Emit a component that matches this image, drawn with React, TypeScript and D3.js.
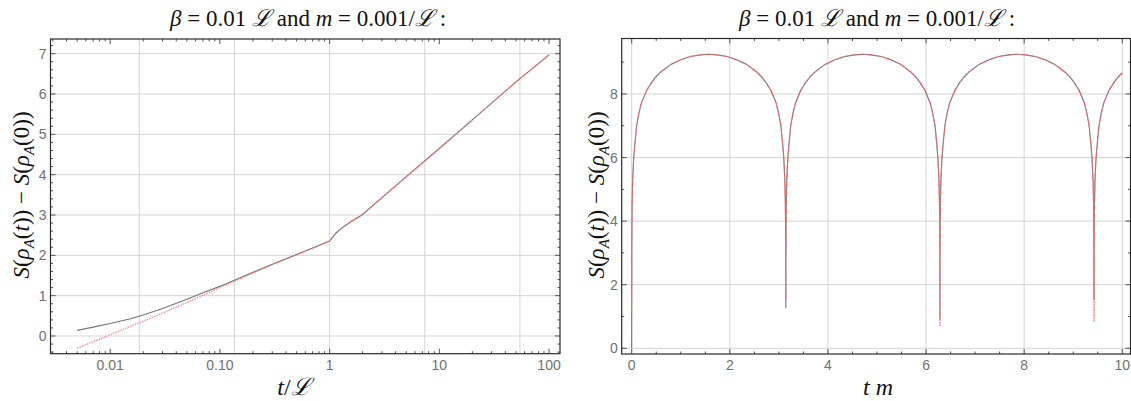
import React from 'react';
import * as d3 from 'd3';

const W = 1131;
const H = 401;

// ---------- Left panel data (log time axis) ----------
const leftT = [0.005, 0.007, 0.01, 0.015, 0.02, 0.03, 0.05, 0.07, 0.1, 0.2, 0.3, 0.5, 0.7, 1, 1.15, 1.34, 1.6, 1.97, 3, 5, 10, 20, 50, 100];
const leftExact = [0.14, 0.22, 0.31, 0.42, 0.52, 0.68, 0.91, 1.07, 1.23, 1.58, 1.78, 2.02, 2.18, 2.355, 2.56, 2.71, 2.85, 3.0, 3.43, 3.95, 4.65, 5.36, 6.3, 6.97];
const leftApprox = [-0.305, -0.14, 0.03, 0.23, 0.37, 0.57, 0.83, 1.01, 1.2, 1.56, 1.77, 2.01, 2.17, 2.355, 2.56, 2.71, 2.85, 3.0, 3.43, 3.95, 4.65, 5.36, 6.3, 6.97];
const leftXTicks = [0.01, 0.1, 1, 10, 100];
const leftXTickLabels = ['0.01', '0.10', '1', '10', '100'];
const leftXGrid = [0.0184, 0.1357, 1, 7.37, 54.3];
const leftYTicks = [0, 1, 2, 3, 4, 5, 6, 7];

// ---------- Right panel data (linear t m axis) ----------
const archOffsets = [0.002, 0.005, 0.01, 0.02, 0.04, 0.06, 0.1, 0.15, 0.2, 0.3, 0.4, 0.5, 0.6, 0.8, 1.0, 1.2, 1.4];
const archValues = [3.0, 3.9, 4.6, 5.3, 5.95, 6.35, 7.0, 7.42, 7.73, 8.1, 8.35, 8.55, 8.7, 8.93, 9.08, 9.18, 9.23];
const archPeak = 9.25;
const dipTimes = [0, 3.1416, 6.2832, 9.4248];
const exactDipMin = [0, 1.26, 0.9, 1.52];
const approxDipMin = [1.2, 1.47, 0.68, 0.84];
const rightEnd = { t: 10, v: 8.66 };
const rightXTicks = [0, 2, 4, 6, 8, 10];
const rightYTicks = [0, 2, 4, 6, 8];

type P = [number, number];

function buildRight(mins: number[]): P[] {
  const pts: P[] = [];
  dipTimes.forEach((d, i) => {
    pts.push([d, mins[i]]);
    const next = dipTimes[i + 1];
    archOffsets.forEach((u, j) => {
      if (d + u < rightEnd.t) pts.push([d + u, archValues[j]]);
    });
    if (next !== undefined) {
      pts.push([(d + next) / 2, archPeak]);
      for (let j = archOffsets.length - 1; j >= 0; j--) pts.push([next - archOffsets[j], archValues[j]]);
    }
  });
  pts.push([rightEnd.t, rightEnd.v]);
  return pts;
}

const SERIF = "'Liberation Serif', 'DejaVu Serif', serif";
const SANS = "'Liberation Sans', Arial, sans-serif";
const GRID = '#d4d4d4';
const FRAME = '#2a2a2a';
const TICKC = '#555';
const LABELC = '#707070';
const EXACT = '#767676';
const APPROX = '#ff6e6e';

function Script() {
  return <tspan fontFamily="'DejaVu Serif', serif" fontStyle="italic">ℒ</tspan>;
}

function Title({ cx }: { cx: number }) {
  return (
    <text x={cx} y={26} fontFamily={SERIF} fontSize={23} textAnchor="middle" fill="#111">
      <tspan fontStyle="italic">β</tspan>
      <tspan>{' = 0.01 '}</tspan>
      <Script />
      <tspan>{' and '}</tspan>
      <tspan fontStyle="italic">m</tspan>
      <tspan>{' = 0.001/'}</tspan>
      <Script />
      <tspan>{' :'}</tspan>
    </text>
  );
}

function YLabel({ x, y }: { x: number; y: number }) {
  return (
    <text transform={`translate(${x},${y}) rotate(-90)`} fontFamily={SERIF} fontSize={23} textAnchor="middle" fill="#111">
      <tspan fontStyle="italic">S</tspan>
      <tspan>(</tspan>
      <tspan fontStyle="italic">ρ</tspan>
      <tspan fontStyle="italic" fontSize={15} dy={5}>A</tspan>
      <tspan dy={-5}>(</tspan>
      <tspan fontStyle="italic">t</tspan>
      <tspan>{')) − '}</tspan>
      <tspan fontStyle="italic">S</tspan>
      <tspan>(</tspan>
      <tspan fontStyle="italic">ρ</tspan>
      <tspan fontStyle="italic" fontSize={15} dy={5}>A</tspan>
      <tspan dy={-5}>(0))</tspan>
    </text>
  );
}

function LeftPanel() {
  const x0 = 50.5, x1 = 560, y0 = 39, y1 = 353.7;
  const x = d3.scaleLog().domain([Math.pow(10, -2.544), Math.pow(10, 2.1)]).range([x0, x1]);
  const y = d3.scaleLinear().domain([-0.439, 7.364]).range([y1, y0]);
  const line = d3.line<number>().x((_, i) => x(leftT[i])).y((v) => y(v));
  const minorX: number[] = [];
  for (let k = -3; k <= 2; k++) for (let m = 2; m <= 9; m++) {
    const v = m * Math.pow(10, k);
    if (x(v) > x0 && x(v) < x1) minorX.push(v);
  }
  const minorY: number[] = [];
  for (let v = -0.4; v <= 7.3; v += 0.2) {
    const r = Math.round(v * 10) / 10;
    if (Math.abs(r - Math.round(r)) > 0.05) minorY.push(r);
  }
  return (
    <g>
      {leftXGrid.map((g) => <line key={'gx' + g} x1={x(g)} x2={x(g)} y1={y0} y2={y1} stroke={GRID} strokeWidth={1} />)}
      {leftYTicks.map((g) => <line key={'gy' + g} x1={x0} x2={x1} y1={y(g)} y2={y(g)} stroke={GRID} strokeWidth={1} />)}
      <path d={line(leftExact) || ''} fill="none" stroke={EXACT} strokeWidth={1.1} />
      <path d={line(leftApprox) || ''} fill="none" stroke={APPROX} strokeWidth={1.2} strokeDasharray="1.4,1.2" />
      {leftXTicks.map((t) => (
        <g key={'xt' + t}>
          <line x1={x(t)} x2={x(t)} y1={y1} y2={y1 - 5} stroke={TICKC} />
          <line x1={x(t)} x2={x(t)} y1={y0} y2={y0 + 5} stroke={TICKC} />
        </g>
      ))}
      {minorX.map((t) => (
        <g key={'mx' + t}>
          <line x1={x(t)} x2={x(t)} y1={y1} y2={y1 - 2.5} stroke={TICKC} />
          <line x1={x(t)} x2={x(t)} y1={y0} y2={y0 + 2.5} stroke={TICKC} />
        </g>
      ))}
      {leftYTicks.map((t) => (
        <g key={'yt' + t}>
          <line x1={x0} x2={x0 + 5} y1={y(t)} y2={y(t)} stroke={TICKC} />
          <line x1={x1} x2={x1 - 5} y1={y(t)} y2={y(t)} stroke={TICKC} />
        </g>
      ))}
      {minorY.map((t) => (
        <g key={'my' + t}>
          <line x1={x0} x2={x0 + 2.5} y1={y(t)} y2={y(t)} stroke={TICKC} />
          <line x1={x1} x2={x1 - 2.5} y1={y(t)} y2={y(t)} stroke={TICKC} />
        </g>
      ))}
      <rect x={x0} y={y0} width={x1 - x0} height={y1 - y0} fill="none" stroke={FRAME} strokeWidth={1.2} />
      {leftXTicks.map((t, i) => (
        <text key={'xl' + t} x={x(t)} y={370} fontFamily={SANS} fontSize={14} fill={LABELC} textAnchor="middle">{leftXTickLabels[i]}</text>
      ))}
      {leftYTicks.map((t) => (
        <text key={'yl' + t} x={x0 - 4} y={y(t) + 5} fontFamily={SANS} fontSize={14} fill={LABELC} textAnchor="end">{String(t)}</text>
      ))}
      <Title cx={308} />
      <YLabel x={29} y={195} />
      <text x={294} y={395} fontFamily={SERIF} fontSize={24} textAnchor="middle" fill="#111">
        <tspan fontStyle="italic">t</tspan>
        <tspan>/</tspan>
        <Script />
      </text>
    </g>
  );
}

function RightPanel() {
  const x0 = 621.7, x1 = 1130.5, y0 = 38.5, y1 = 354;
  const x = d3.scaleLinear().domain([-0.2038, 10.168]).range([x0, x1]);
  const y = d3.scaleLinear().domain([-0.18, 9.745]).range([y1, y0]);
  const exact = buildRight(exactDipMin);
  const approx = buildRight(approxDipMin);
  const line = d3.line<P>().x((d) => x(d[0])).y((d) => y(d[1]));
  const minorX: number[] = [];
  for (let v = 0; v <= 10.1; v += 0.5) {
    const r = Math.round(v * 10) / 10;
    if (r % 2 !== 0) minorX.push(r);
  }
  const minorY = [1, 3, 5, 7, 9];
  return (
    <g>
      {rightXTicks.map((g) => <line key={'gx' + g} x1={x(g)} x2={x(g)} y1={y0} y2={y1} stroke={GRID} strokeWidth={1} />)}
      {rightYTicks.map((g) => <line key={'gy' + g} x1={x0} x2={x1} y1={y(g)} y2={y(g)} stroke={GRID} strokeWidth={1} />)}
      <path d={line(exact) || ''} fill="none" stroke={EXACT} strokeWidth={1.1} />
      <path d={line(approx) || ''} fill="none" stroke={APPROX} strokeWidth={1.2} strokeDasharray="1.4,1.2" />
      {rightXTicks.map((t) => (
        <g key={'xt' + t}>
          <line x1={x(t)} x2={x(t)} y1={y1} y2={y1 - 5} stroke={TICKC} />
          <line x1={x(t)} x2={x(t)} y1={y0} y2={y0 + 5} stroke={TICKC} />
        </g>
      ))}
      {minorX.map((t) => (
        <g key={'mx' + t}>
          <line x1={x(t)} x2={x(t)} y1={y1} y2={y1 - 2.5} stroke={TICKC} />
          <line x1={x(t)} x2={x(t)} y1={y0} y2={y0 + 2.5} stroke={TICKC} />
        </g>
      ))}
      {rightYTicks.map((t) => (
        <g key={'yt' + t}>
          <line x1={x0} x2={x0 + 5} y1={y(t)} y2={y(t)} stroke={TICKC} />
          <line x1={x1} x2={x1 - 5} y1={y(t)} y2={y(t)} stroke={TICKC} />
        </g>
      ))}
      {minorY.map((t) => (
        <g key={'my' + t}>
          <line x1={x0} x2={x0 + 2.5} y1={y(t)} y2={y(t)} stroke={TICKC} />
          <line x1={x1} x2={x1 - 2.5} y1={y(t)} y2={y(t)} stroke={TICKC} />
        </g>
      ))}
      <rect x={x0} y={y0} width={x1 - x0} height={y1 - y0} fill="none" stroke={FRAME} strokeWidth={1.2} />
      {rightXTicks.map((t) => (
        <text key={'xl' + t} x={x(t)} y={370} fontFamily={SANS} fontSize={14} fill={LABELC} textAnchor="middle">{String(t)}</text>
      ))}
      {rightYTicks.map((t) => (
        <text key={'yl' + t} x={x0 - 4} y={y(t) + 5} fontFamily={SANS} fontSize={14} fill={LABELC} textAnchor="end">{String(t)}</text>
      ))}
      <Title cx={877} />
      <YLabel x={604} y={195} />
      <text x={878} y={395} fontFamily={SERIF} fontSize={24} textAnchor="middle" fill="#111">
        <tspan fontStyle="italic">t</tspan>
        <tspan>{' '}</tspan>
        <tspan fontStyle="italic">m</tspan>
      </text>
    </g>
  );
}

export default function App() {
  return (
    <svg width={W} height={H} viewBox={`0 0 ${W} ${H}`} style={{ position: 'absolute', left: 0, top: 0, background: '#fff' }}>
      <rect x={0} y={0} width={W} height={H} fill="#fff" />
      <LeftPanel />
      <RightPanel />
    </svg>
  );
}
